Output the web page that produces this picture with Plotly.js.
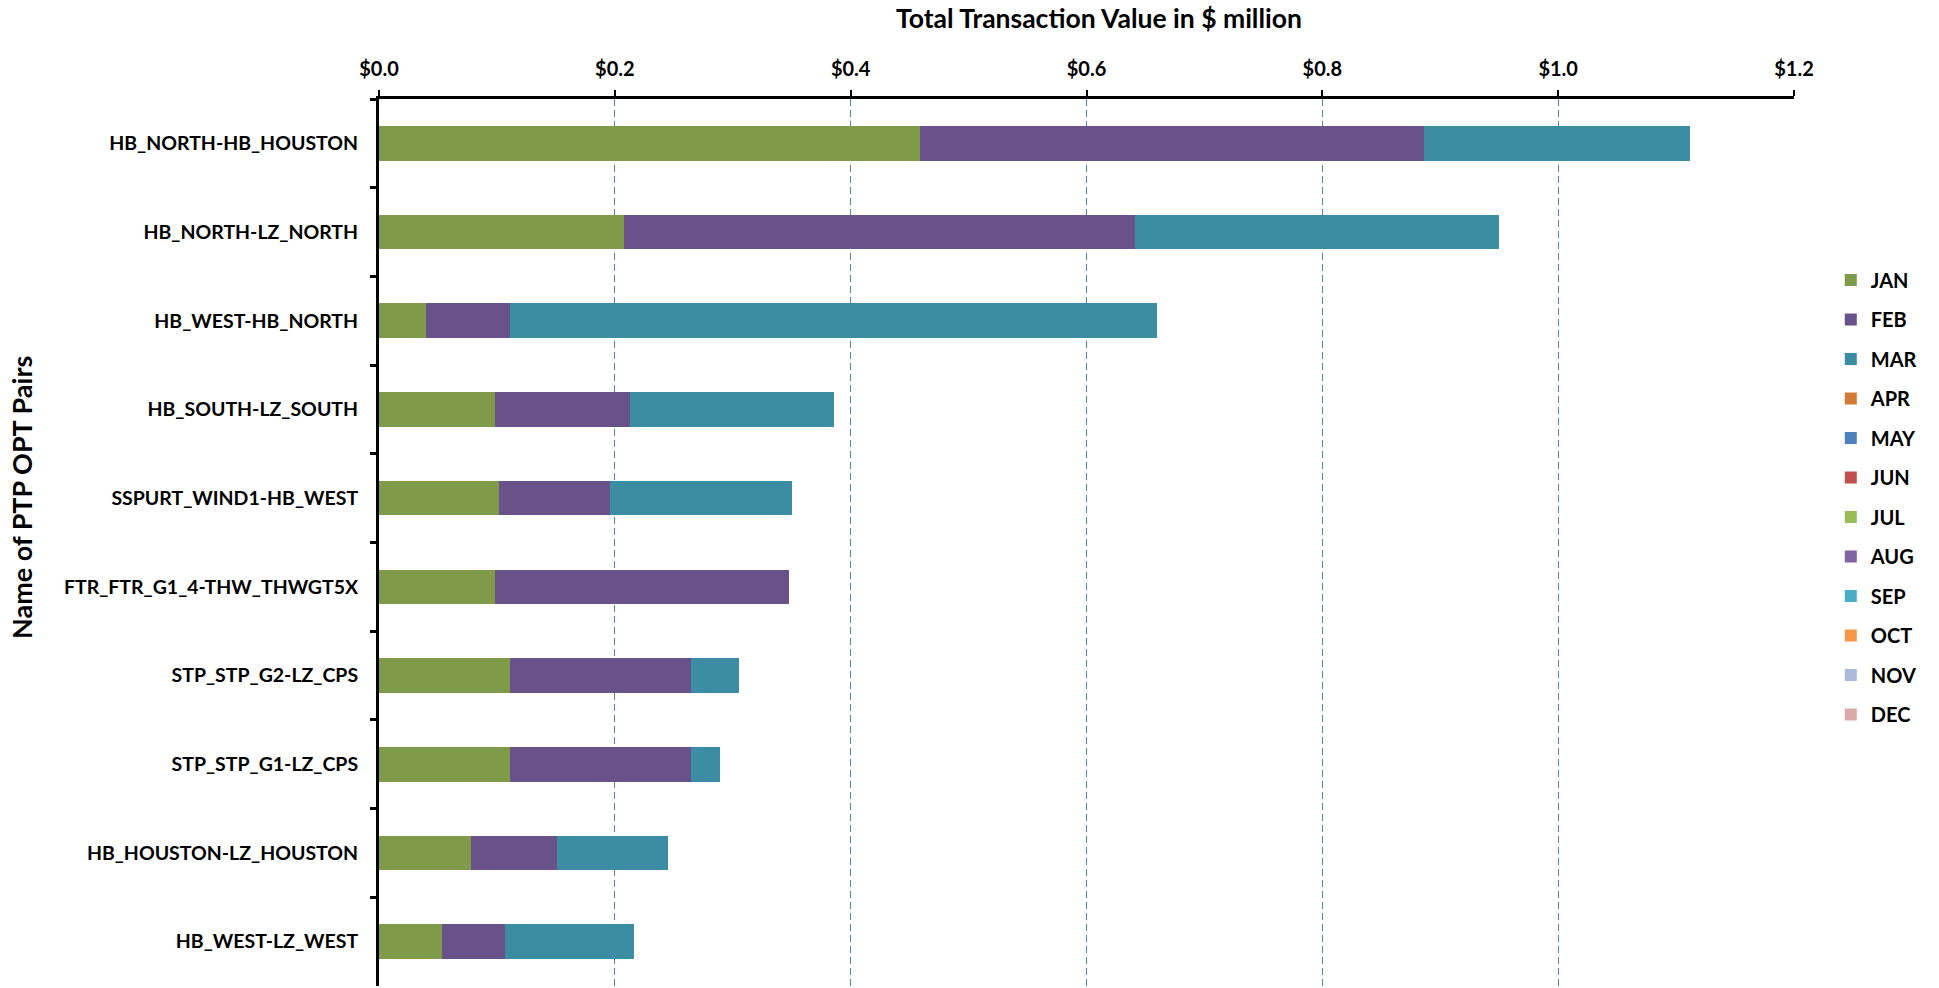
<!DOCTYPE html>
<html>
<head>
<meta charset="utf-8">
<script src="https://cdn.plot.ly/plotly-3.0.1.min.js"></script>
<style>html,body{margin:0;padding:0;background:#fff;}#chart{width:1939px;height:988px;}</style>
</head>
<body>
<div id="chart"></div>
<script>
const pairs = ["HB_NORTH-HB_HOUSTON","HB_NORTH-LZ_NORTH","HB_WEST-HB_NORTH","HB_SOUTH-LZ_SOUTH","SSPURT_WIND1-HB_WEST","FTR_FTR_G1_4-THW_THWGT5X","STP_STP_G2-LZ_CPS","STP_STP_G1-LZ_CPS","HB_HOUSTON-LZ_HOUSTON","HB_WEST-LZ_WEST"];
const months = ["JAN","FEB","MAR","APR","MAY","JUN","JUL","AUG","SEP","OCT","NOV","DEC"];
const jan = [0.459,0.208,0.040,0.098,0.102,0.098,0.111,0.111,0.078,0.053];
const feb = [0.427,0.433,0.071,0.115,0.094,0.250,0.154,0.154,0.073,0.054];
const mar = [0.226,0.309,0.549,0.173,0.154,0.000,0.040,0.024,0.094,0.109];
const zeros = [0,0,0,0,0,0,0,0,0,0];
const monthValues = [jan,feb,mar,zeros,zeros,zeros,zeros,zeros,zeros,zeros,zeros,zeros];
const colors = ["#7f9a48","#69518a","#3c8ca4","#d07a35","#4f81bd","#c0504d","#9bbb59","#8064a2","#4bacc6","#f79646","#a9badb","#dba9a9"];
const xTicks = [0,0.2,0.4,0.6,0.8,1.0,1.2];
const xTickText = xTicks.map(v => '$' + v.toFixed(1));

const FONT = "Lato, 'Open Sans', sans-serif";

const traces = months.map((m,i)=>({
  type:'bar', orientation:'h', name:m, y:pairs, x:monthValues[i],
  marker:{color:colors[i], line:{width:0}},
  legendgroup:m, hoverinfo:'x+name'
}));

const layout = {
  width:1939, height:988,
  margin:{l:379, r:145, t:99, b:2},
  paper_bgcolor:'#fff', plot_bgcolor:'#fff',
  barmode:'stack', bargap:0.61,
  font:{family:FONT, size:18, color:'#000'},
  showlegend:true,
  legend:{x:1.026, y:0.818, xanchor:'left', yanchor:'top', traceorder:'grouped', tracegroupgap:10.5,
    font:{family:FONT, size:20, color:'#000', weight:700}, itemwidth:30},
  xaxis:{side:'top', range:[0,1.2], tickvals:xTicks, ticktext:xTickText,
    showgrid:true, gridcolor:'#4f81bd', gridwidth:1, griddash:'7px,4px',
    showline:true, linecolor:'#000', linewidth:3, ticks:'outside', ticklen:6, tickwidth:2, tickcolor:'#000',
    ticklabelstandoff:6,
    tickfont:{family:FONT, size:20, weight:700, color:'#000'}, zeroline:false, fixedrange:true},
  yaxis:{type:'category', autorange:'reversed', showline:true, linecolor:'#000', linewidth:3,
    ticks:'outside', ticklen:6, tickwidth:3, tickcolor:'#000', tickson:'boundaries',
    ticklabelstandoff:14, showgrid:false, zeroline:false,
    tickfont:{family:FONT, size:19.5, weight:700, color:'#000'}, fixedrange:true},
  annotations:[
    {text:'<b>Total Transaction Value in $ million</b>', xref:'paper', yref:'paper', x:(1099-379)/1415, y:(988-2-18)/(988-101), xanchor:'center', yanchor:'middle', showarrow:false,
      font:{family:FONT, size:26.5, color:'#000'}},
    {text:'<b>Name of PTP OPT Pairs</b>', xref:'paper', yref:'paper', x:-(379-21)/1415, y:(988-2-498)/(988-101), xanchor:'center', yanchor:'middle', textangle:-90, showarrow:false,
      font:{family:FONT, size:27, color:'#000'}}
  ]
};

Plotly.newPlot('chart', traces, layout, {displayModeBar:false, staticPlot:true});
</script>
</body>
</html>
